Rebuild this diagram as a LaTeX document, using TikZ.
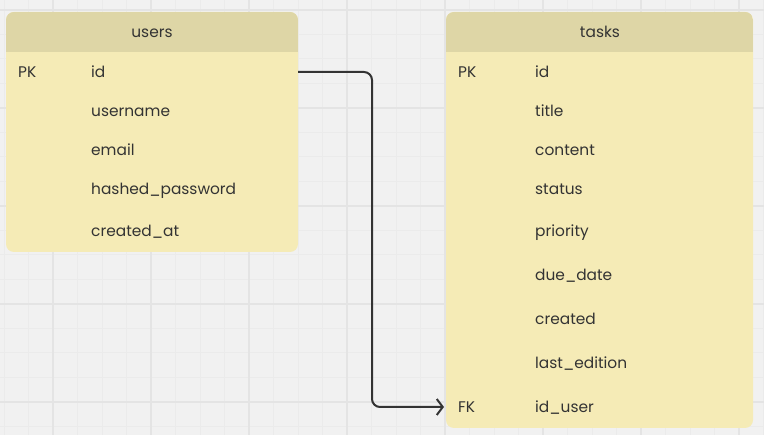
\documentclass[tikz,border=0pt]{standalone}
\usepackage{fontspec}
\setmainfont{Poppins}
\usetikzlibrary{arrows.meta}
\definecolor{bgc}{HTML}{F1F1F1}
\definecolor{gridminor}{HTML}{EBEBEB}
\definecolor{gridmajor}{HTML}{E4E4E4}
\definecolor{hdrc}{HTML}{DED6A6}
\definecolor{bodyc}{HTML}{F5EBB6}
\definecolor{inkc}{HTML}{333333}
\tikzset{
  tbl/.style={fill=bodyc, rounded corners=8pt, anchor=north west, inner sep=0pt, outer sep=0pt},
  hdrtext/.style={font=\fontsize{15.4}{17}\selectfont, text=inkc, anchor=base, inner sep=0pt},
  keytext/.style={font=\fontsize{15.4}{17}\selectfont, text=inkc, anchor=base west, inner sep=0pt},
  fieldtext/.style={font=\fontsize{15.4}{17}\selectfont, text=inkc, anchor=base west, inner sep=0pt},
  conn/.style={draw=inkc, line width=2pt, rounded corners=8pt, -{Straight Barb[length=6pt,width=16pt,line width=2pt]}},
}
\begin{document}
\begin{tikzpicture}[x=1pt,y=-1pt]
\useasboundingbox (0,0) rectangle (764,435);
\fill[bgc] (0,0) rectangle (764,435);
% minor grid
\foreach \i in {0,...,31} {
  \draw[gridminor, line width=1pt] ({4+24.5*\i},0) -- ({4+24.5*\i},435);
}
\foreach \j in {0,...,17} {
  \draw[gridminor, line width=1pt] (0,{10+24.5*\j}) -- (764,{10+24.5*\j});
}
% major grid
\foreach \i in {0,...,7} {
  \draw[gridmajor, line width=1.2pt] ({53+98*\i},0) -- ({53+98*\i},435);
}
\foreach \j in {0,...,4} {
  \draw[gridmajor, line width=1.2pt] (0,{10+98*\j}) -- (764,{10+98*\j});
}

% users table
\node[tbl, minimum width=292pt, minimum height=240pt] (users) at (6,12) {};
\begin{scope}
  \clip[rounded corners=8pt] (6,12) rectangle (298,252);
  \fill[hdrc] (6,12) rectangle (298,52);
\end{scope}
\node[hdrtext] (usersh) at (152,38) {users};
\node[keytext] (upk) at (18,78) {PK};
\node[fieldtext] (uid) at (91,78) {id};
\node[fieldtext] (uname) at (91,117) {username};
\node[fieldtext] (uemail) at (91,156) {email};
\node[fieldtext] (upw) at (91,195) {hashed\_password};
\node[fieldtext] (ucr) at (91,237) {created\_at};

% tasks table
\node[tbl, minimum width=307pt, minimum height=416pt] (tasks) at (446,12) {};
\begin{scope}
  \clip[rounded corners=8pt] (446,12) rectangle (753,428);
  \fill[hdrc] (446,12) rectangle (753,52);
\end{scope}
\node[hdrtext] (tasksh) at (600,38) {tasks};
\node[keytext] (tpk) at (458,78) {PK};
\node[fieldtext] (tid) at (535,78) {id};
\node[fieldtext] (ttitle) at (535,117) {title};
\node[fieldtext] (tcontent) at (535,156) {content};
\node[fieldtext] (tstatus) at (535,195) {status};
\node[fieldtext] (tprio) at (535,237) {priority};
\node[fieldtext] (tdue) at (535,281) {due\_date};
\node[fieldtext] (tcreated) at (535,325) {created};
\node[fieldtext] (tlast) at (535,369) {last\_edition};
\node[keytext] (tfk) at (458,413) {FK};
\node[fieldtext] (tuid) at (535,413) {id\_user};

% connector
\coordinate (cstart) at (users.east |- 0,72);
\coordinate (cend) at (444,407);
\draw[conn] (cstart) -- (372,72) -- (372,407) -- (cend);
\end{tikzpicture}
\end{document}
